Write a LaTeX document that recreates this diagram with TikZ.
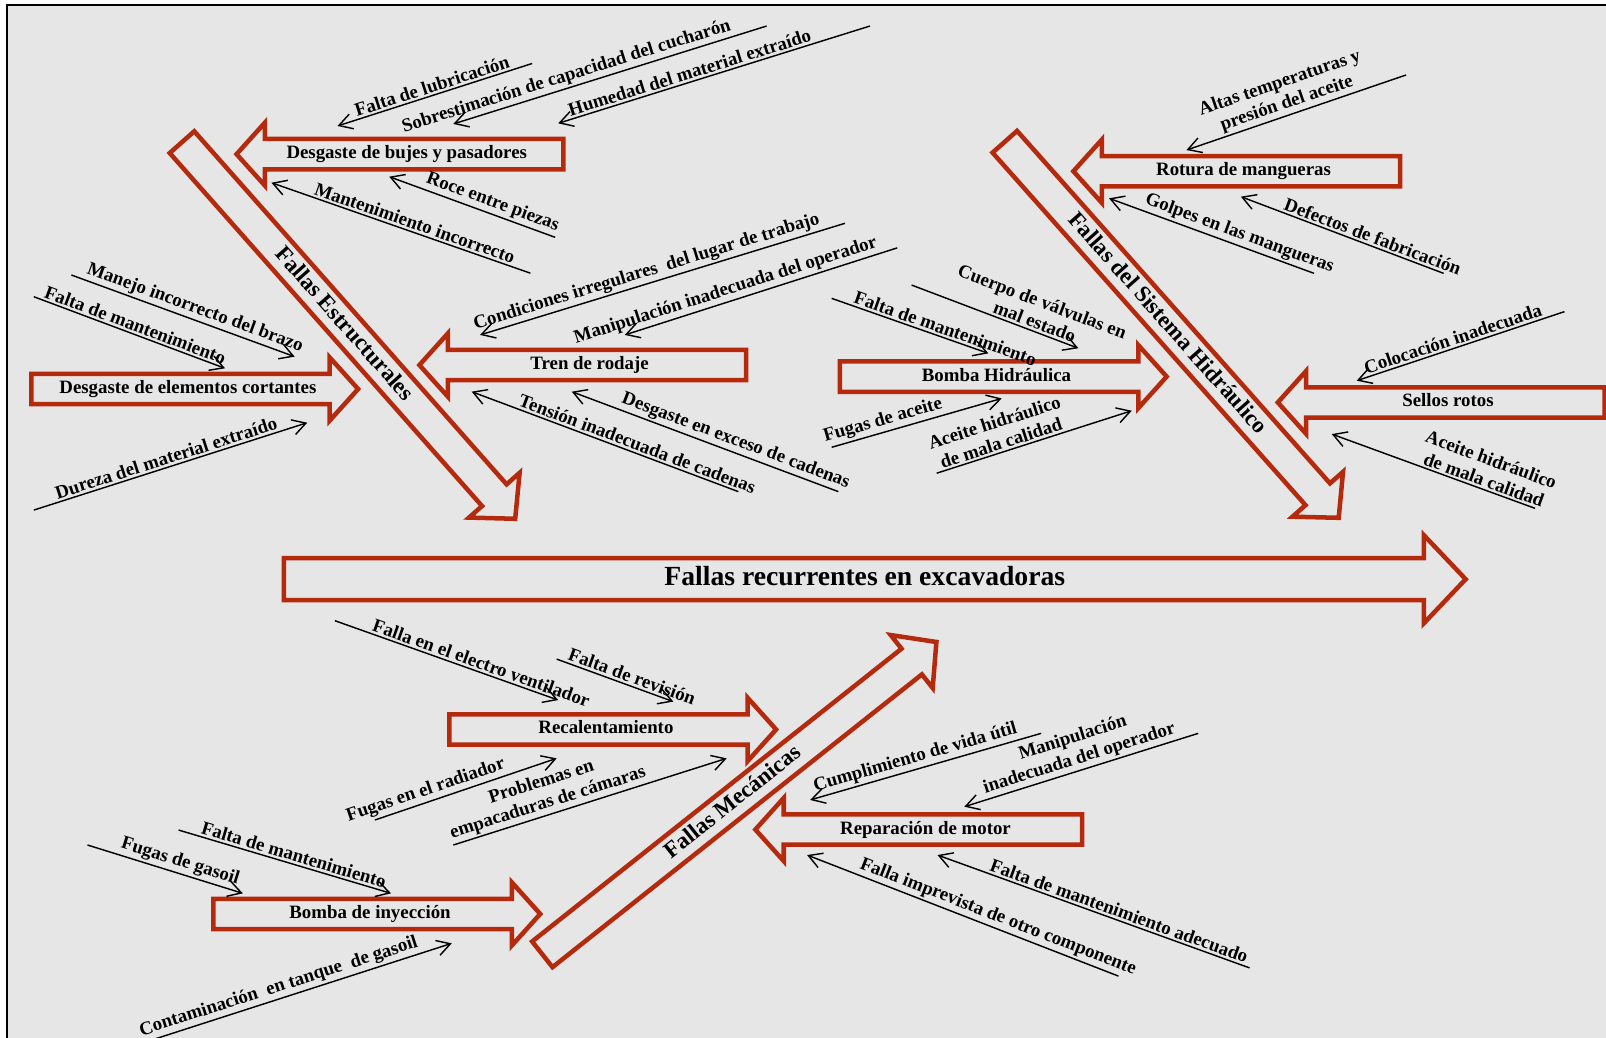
\documentclass[tikz,border=0pt]{standalone}
\usepackage{fontspec}
\setmainfont{Liberation Serif}
\usepackage{tikz}
\usetikzlibrary{shapes.arrows, arrows.meta}
\definecolor{FallaRed}{HTML}{B52A0C}
\definecolor{FallaBack}{HTML}{E6E6E6}
\definecolor{FallaBlack}{HTML}{000000}
\tikzset{
    % Block arrow styles - hollow, red outline
    spine/.style={
        single arrow,
        draw=FallaRed,
        line width=2.2pt,
        single arrow tip angle=93,
        single arrow head extend=11.25pt,
        minimum width=0pt,
        minimum height=576.9pt,
        inner xsep=0pt,
        inner ysep=2.9pt,
        text height=9.5pt,
        text depth=3pt,
        font=\fontsize{13.5}{15}\selectfont\bfseries
    },
    category/.style={
        single arrow,
        draw=FallaRed,
        line width=2.2pt,
        single arrow tip angle=94,
        single arrow head extend=8.5pt,
        minimum width=0pt,
        minimum height=245.5pt,
        inner xsep=0pt,
        inner ysep=1.8pt,
        text height=7.8pt,
        text depth=2.4pt,
        font=\fontsize{11.2}{12}\selectfont\bfseries
    },
    branch/.style={
        single arrow,
        draw=FallaRed,
        line width=2.2pt,
        single arrow tip angle=96,
        single arrow head extend=8pt,
        minimum width=0pt,
        minimum height=159.5pt,
        inner xsep=0pt,
        inner ysep=2.1pt,
        text height=6.4pt,
        text depth=2pt,
        font=\fontsize{9.2}{10}\selectfont\bfseries
    },
    % Cause styles - thin black lines
    cause/.style={
        -{Straight Barb[length=6.5pt, width=7.5pt]},
        line width=0.7pt,
        draw=FallaBlack
    },
    causelabel/.style={
        sloped,
        above,
        inner sep=1pt,
        align=center,
        font=\fontsize{9.2}{10.5}\selectfont\bfseries
    }
}
\begin{document}
\begin{tikzpicture}[x=0.5pt, y=-0.5pt]
    \useasboundingbox (0,0) rectangle (1568,1013);
    % Background and frame
    \fill[white] (0,0) rectangle (1568,1013);
    \fill[FallaBack] (7,5) rectangle (1568,1013);
    \draw[line width=1pt, FallaBlack] (7,1013) -- (7,5) -- (1568,5);

    % Spine
    \node[spine, anchor=tip] (effect) at (1434,565.5) {Fallas recurrentes en excavadoras};

    % Categories
    \node[category, anchor=tip, rotate=-48.5] (estruct) at (505,508.75) {Fallas Estructurales};
    \node[category, anchor=tip, rotate=-48.4] (hidra) at (1309,507.8) {Fallas del Sistema Hidráulico};
    \node[category, anchor=tip, rotate=38.4] (mecan) at (916.6,624.9) {Fallas Mecánicas};

    % Branches
    \node[branch, anchor=tip, shape border rotate=180] (bujes) at (228,150.5) {Desgaste de bujes y pasadores};
    \node[branch, anchor=tip] (cortes) at (352.6,379.8) {Desgaste de elementos cortantes};
    \node[branch, anchor=tip, shape border rotate=180] (rodaje) at (406.5,356.4) {Tren de rodaje};
    \node[branch, anchor=tip] (bombah) at (1142,367.7) {Bomba Hidráulica};
    \node[branch, anchor=tip, shape border rotate=180] (mangue) at (1045,167.2) {Rotura de mangueras};
    \node[branch, anchor=tip, shape border rotate=180] (sellos) at (1244.6,392.9) {Sellos rotos};
    \node[branch, anchor=tip] (recal) at (760.7,712.2) {Recalentamiento};
    \node[branch, anchor=tip, shape border rotate=180] (motor) at (734.5,809.9) {Reparación de motor};
    \node[branch, anchor=tip] (inyec) at (530.4,892.3) {Bomba de inyección};

    % Causes: Desgaste de bujes y pasadores
    \coordinate (lub0) at (519.5,62); \coordinate (lub1) at (329.5,123);
    \draw[cause] (lub0) -- node[causelabel, pos=.5] {Falta de lubricación} (lub1);
    \coordinate (sob0) at (748.5,25.4); \coordinate (sob1) at (442.6,121);
    \draw[cause] (sob0) -- node[causelabel, pos=.628] {Sobrestimación de capacidad del cucharón} (sob1);
    \coordinate (hum0) at (849.4,25.4); \coordinate (hum1) at (545,120.4);
    \draw[cause] (hum0) -- node[causelabel, pos=.57] {Humedad del material extraído} (hum1);
    \coordinate (roce0) at (542,231.7); \coordinate (roce1) at (380,172.5);
    \draw[cause] (roce0) -- node[causelabel, pos=.4] {Roce entre piezas} (roce1);
    \coordinate (minc0) at (517.8,266.7); \coordinate (minc1) at (265,178.4);
    \draw[cause] (minc0) -- node[causelabel, pos=.458] {Mantenimiento incorrecto} (minc1);

    % Causes: Desgaste de elementos cortantes
    \coordinate (brazo0) at (69.7,268.5); \coordinate (brazo1) at (287.7,348.2);
    \draw[cause] (brazo0) -- node[causelabel, pos=.536] {Manejo incorrecto del brazo} (brazo1);
    \coordinate (fmc0) at (33,289.7); \coordinate (fmc1) at (219.7,359.6);
    \draw[cause] (fmc0) -- node[causelabel, pos=.514] {Falta de mantenimiento} (fmc1);
    \coordinate (dur0) at (33,498); \coordinate (dur1) at (300,412.7);
    \draw[cause] (dur0) -- node[causelabel, pos=.494] {Dureza del material extraído} (dur1);

    % Causes: Tren de rodaje
    \coordinate (cond0) at (825,218); \coordinate (cond1) at (468.7,327);
    \draw[cause] (cond0) -- node[causelabel, pos=.534] {Condiciones irregulares~ del lugar de trabajo} (cond1);
    \coordinate (mop0) at (876,242); \coordinate (mop1) at (610,327);
    \draw[cause] (mop0) -- node[causelabel, pos=.617] {Manipulación inadecuada del operador} (mop1);
    \coordinate (ten0) at (720.9,480); \coordinate (ten1) at (460.5,382.4);
    \draw[cause] (ten0) -- node[causelabel, pos=.391] {Tensión inadecuada de cadenas} (ten1);
    \coordinate (cad0) at (818.5,480); \coordinate (cad1) at (558.2,382.4);
    \draw[cause] (cad0) -- node[causelabel, pos=.4] {Desgaste en exceso de cadenas} (cad1);

    % Causes: Bomba Hidraulica
    \coordinate (fmb0) at (812,291.3); \coordinate (fmb1) at (965,345);
    \draw[cause] (fmb0) -- node[causelabel, pos=.706] {Falta de mantenimiento} (fmb1);
    \coordinate (val0) at (890,278.3); \coordinate (val1) at (1052.8,340);
    \draw[cause] (val0) -- node[causelabel, pos=.719] {Cuerpo de válvulas en\\mal estado} (val1);
    \coordinate (fac0) at (812,436.7); \coordinate (fac1) at (978,389);
    \draw[cause] (fac0) -- node[causelabel, pos=.32] {Fugas de aceite} (fac1);
    \coordinate (ahb0) at (914.5,462); \coordinate (ahb1) at (1105,401);
    \draw[cause] (ahb0) -- node[causelabel, pos=.344] {Aceite hidráulico\\de mala calidad} (ahb1);

    % Causes: Rotura de mangueras
    \coordinate (alt0) at (1372.8,73.2); \coordinate (alt1) at (1158.4,146.5);
    \draw[cause] (alt0) -- node[causelabel, pos=.526] {Altas temperaturas y\\presión del aceite} (alt1);
    \coordinate (gol0) at (1283,266.9); \coordinate (gol1) at (1082.8,193.6);
    \draw[cause] (gol0) -- node[causelabel, pos=.383] {Golpes en las mangueras} (gol1);
    \coordinate (def0) at (1409.5,266.9); \coordinate (def1) at (1211.5,192);
    \draw[cause] (def0) -- node[causelabel, pos=.366] {Defectos de fabricación} (def1);

    % Causes: Sellos rotos
    \coordinate (col0) at (1527.4,304.3); \coordinate (col1) at (1324.6,371.7);
    \draw[cause] (col0) -- node[causelabel, pos=.523] {Colocación inadecuada} (col1);
    \coordinate (ahs0) at (1498.7,496.3); \coordinate (ahs1) at (1300.2,423.8);
    \draw[cause] (ahs0) -- node[causelabel, pos=.267] {Aceite hidráulico\\de mala calidad} (ahs1);

    % Causes: Recalentamiento
    \coordinate (ven0) at (327,606); \coordinate (ven1) at (545,683.5);
    \draw[cause] (ven0) -- node[causelabel, pos=.642] {Falla en el electro ventilador} (ven1);
    \coordinate (rev0) at (543.5,643.5); \coordinate (rev1) at (657.4,685);
    \draw[cause] (rev0) -- node[causelabel, pos=.62] {Falta de revisión} (rev1);
    \coordinate (rad0) at (366,800.6); \coordinate (rad1) at (543.5,740.4);
    \draw[cause] (rad0) -- node[causelabel, pos=.3] {Fugas en el radiador} (rad1);
    \coordinate (emp0) at (442.6,825); \coordinate (emp1) at (709.5,740.4);
    \draw[cause] (emp0) -- node[causelabel, pos=.359] {Problemas en\\empacaduras de cámaras} (emp1);

    % Causes: Reparacion de motor
    \coordinate (vida0) at (1016.5,716); \coordinate (vida1) at (791,781);
    \draw[cause] (vida0) -- node[causelabel, pos=.531] {Cumplimiento de vida útil} (vida1);
    \coordinate (mor0) at (1169.9,716); \coordinate (mor1) at (941.5,787.6);
    \draw[cause] (mor0) -- node[causelabel, pos=.494] {Manipulación\\inadecuada del operador} (mor1);
    \coordinate (imp0) at (1092,953); \coordinate (imp1) at (788,834.8);
    \draw[cause] (imp0) -- node[causelabel, pos=.4] {Falla imprevista de otro componente} (imp1);
    \coordinate (fma0) at (1220,945); \coordinate (fma1) at (915.3,834.8);
    \draw[cause] (fma0) -- node[causelabel, pos=.428] {Falta de mantenimiento adecuado} (fma1);

    % Causes: Bomba de inyeccion
    \coordinate (gas0) at (85.4,825); \coordinate (gas1) at (237.1,872.2);
    \draw[cause] (gas0) -- node[causelabel, pos=.575] {Fugas de gasoil} (gas1);
    \coordinate (fmi0) at (174.4,810.4); \coordinate (fmi1) at (381.8,872.2);
    \draw[cause] (fmi0) -- node[causelabel, pos=.53] {Falta de mantenimiento} (fmi1);
    \coordinate (tan0) at (140,1018); \coordinate (tan1) at (441.1,921);
    \draw[cause] (tan0) -- node[causelabel, pos=.45] {Contaminación~ en tanque~ de gasoil} (tan1);
\end{tikzpicture}
\end{document}
